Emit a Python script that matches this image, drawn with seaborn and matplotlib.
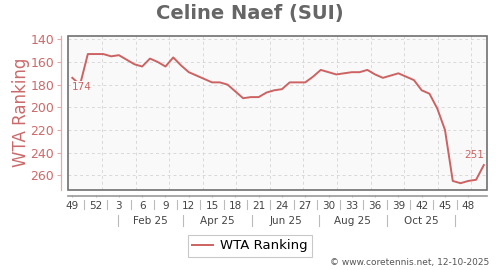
import numpy as np
import pandas as pd
import matplotlib
matplotlib.use("Agg")
import matplotlib.pyplot as plt
import seaborn as sns
from matplotlib.patches import Rectangle

# ---- data ----
week_labels = ["49", "52", "3", "6", "9", "12", "15", "18", "21", "24", "27",
               "30", "33", "36", "39", "42", "45", "48"]
month_labels = ["Feb 25", "Apr 25", "Jun 25", "Aug 25", "Oct 25"]
ranking = [174, 180, 153, 153, 153, 155, 154, 158, 162, 164, 157, 160, 164, 156,
           163, 169, 172, 175, 178, 178, 180, 186, 192, 191, 191, 187, 185, 184,
           178, 178, 178, 173, 167, 169, 171, 170, 169, 169, 167, 171, 174, 172,
           170, 173, 176, 185, 188, 201, 220, 265, 267, 265, 264, 251]
series_name = "WTA Ranking"
title = "Celine Naef (SUI)"
footer = "\u00a9 www.coretennis.net, 12-10-2025"

# ---- positions / styles ----
week_tick_pos = np.arange(0, 52, 3)
month_sep_pos = [5.89, 14.26, 23.15, 31.78, 40.5, 49.3]
grid_x = 3.82 + 4.325 * np.arange(12)
line_color = "#cd6262"
tick_red = "#cc6a6a"

df = pd.DataFrame({"week": np.arange(len(ranking)), "rank": ranking})

fig = plt.figure(figsize=(5, 2.7), dpi=100)
ax = fig.add_axes([68 / 500, 1 - 190 / 270, (487 - 68) / 500, (190 - 35.7) / 270])
ax.set_facecolor("#f9f9f9")

sns.lineplot(data=df, x="week", y="rank", ax=ax, color=line_color, linewidth=1.4,
             label=series_name, legend=False, zorder=3)

ax.set_xlim(-0.554, 53.41)
ax.set_ylim(273, 136.8)

# grid
for gx in grid_x:
    ax.axvline(gx, color="#d8d8d8", lw=0.7, ls=(0, (3, 3)), zorder=1)
yt = [140, 160, 180, 200, 220, 240, 260]
for gy in yt:
    ax.axhline(gy, color="#d8d8d8", lw=0.7, ls=(0, (3, 3)), zorder=1)

# frame
ax.add_patch(Rectangle((0, 0), 1, 1, transform=ax.transAxes, fill=False,
                       edgecolor="#707070", lw=1.2, zorder=5, clip_on=False))
ax.spines["top"].set_visible(False)
ax.spines["right"].set_visible(False)
ax.spines["left"].set_position(("outward", 5))
ax.spines["left"].set_color("#e3aaaa")
ax.spines["left"].set_linewidth(0.9)
ax.spines["bottom"].set_position(("outward", 4))
ax.spines["bottom"].set_color("#999999")
ax.spines["bottom"].set_linewidth(1.2)

ax.set_yticks(yt)
ax.set_yticklabels([str(v) for v in yt])
ax.tick_params(axis="y", colors="#e3aaaa", labelcolor=tick_red, labelsize=9,
               length=3, width=0.8, pad=2)
ax.set_xticks(week_tick_pos)
ax.set_xticklabels(week_labels)
ax.tick_params(axis="x", colors="#bbbbbb", labelcolor="#444444", labelsize=7.5,
               length=2, width=0.8, pad=3, direction="inout")
ax.set_xlabel("")
ax.set_ylabel("")

# separators between week labels
trans = ax.get_xaxis_transform()
h = (190 - 35.7)
for p in week_tick_pos[:-1] + 1.5:
    ax.plot([p, p], [-(200 - 190) / h, -(209 - 190) / h], transform=trans,
            color="#bbbbbb", lw=0.8, clip_on=False)
# month row
for p in month_sep_pos:
    ax.plot([p, p], [-(215 - 190) / h, -(226 - 190) / h], transform=trans,
            color="#bbbbbb", lw=0.8, clip_on=False)
for i, lab in enumerate(month_labels):
    c = (month_sep_pos[i] + month_sep_pos[i + 1]) / 2
    ax.text(c, -(221 - 190) / h, lab, transform=trans, ha="center", va="center",
            fontsize=7.5, color="#444444")

# value labels
ax.annotate(str(ranking[0]), (0, ranking[0]), xytext=(-0.3, -3), textcoords="offset points",
            ha="left", va="top", fontsize=7.5, color=line_color, zorder=4,
            bbox=dict(boxstyle="square,pad=0.1", fc="#f9f9f9", ec="none"))
ax.annotate(str(ranking[-1]), (len(ranking) - 1, ranking[-1]), xytext=(0, 3.5),
            textcoords="offset points", ha="right", va="bottom", fontsize=7.5,
            color=line_color, zorder=4)

# titles
fig.text(0.5, 1 - 13 / 270, title, ha="center", va="center", fontsize=14,
         fontweight="bold", color="#666666")
fig.text(21 / 500, 1 - 112.5 / 270, series_name, rotation=90, ha="center",
         va="center", fontsize=12, color=tick_red)
fig.text(489 / 500, 1 - 263 / 270, footer, ha="right", va="center", fontsize=6.5,
         color="#555555")

handles, labels = ax.get_legend_handles_labels()
leg = fig.legend(handles, labels, loc="center", bbox_to_anchor=(0.5, 1 - 246 / 270),
                 fontsize=9.5, frameon=True, fancybox=False, edgecolor="#bbbbbb",
                 handlelength=1.6, handletextpad=0.5, borderpad=0.35)
leg.get_frame().set_linewidth(0.8)

fig.savefig("out.png", dpi=100)
